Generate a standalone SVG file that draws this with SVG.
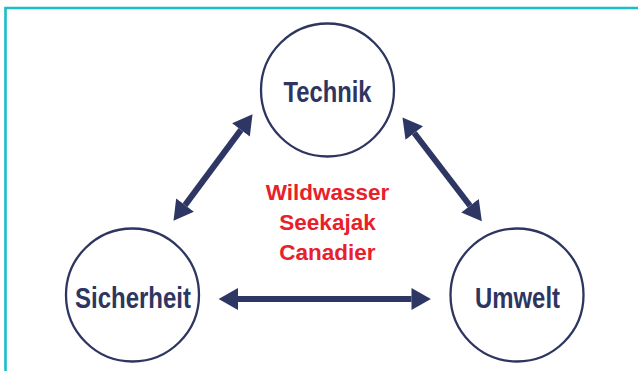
<svg xmlns="http://www.w3.org/2000/svg" width="638" height="371" viewBox="0 0 638 371">
<style>
.node{fill:#ffffff;stroke:#2e3560;stroke-width:2.3}
.lbl{font-family:"Liberation Sans",Arial,sans-serif;font-weight:bold;font-size:30px;fill:#2e3561;text-anchor:middle}
.red{font-family:"Liberation Sans",Arial,sans-serif;font-weight:bold;font-size:22.5px;fill:#e8202a;text-anchor:middle}
.arr{stroke:#2e3663;stroke-width:6;fill:none;marker-start:url(#head);marker-end:url(#head)}
</style>
<defs>
<marker id="head" markerUnits="userSpaceOnUse" markerWidth="20" markerHeight="22" viewBox="0 0 18.5 21" refX="0" refY="10.5" orient="auto-start-reverse">
<path d="M0,0 L18.5,10.5 L0,21 Z" fill="#2e3663"/>
</marker>
</defs>
<rect width="638" height="371" fill="#ffffff"/>
<path d="M5.5,371 V8 H638" fill="none" stroke="#17bec8" stroke-width="2.6"/>
<g id="connectors">
<line class="arr" x1="238" y1="299" x2="411.5" y2="299"/>
<line class="arr" x1="240.97" y1="129.85" x2="185.03" y2="205.15"/>
<line class="arr" x1="414.26" y1="133" x2="470.04" y2="205.8"/>
</g>
<g id="technik">
<circle class="node" cx="327.5" cy="90" r="66.5"/>
<text class="lbl" x="327.5" y="101.5" textLength="88" lengthAdjust="spacingAndGlyphs">Technik</text>
</g>
<g id="sicherheit">
<circle class="node" cx="132.5" cy="295" r="66.5"/>
<text class="lbl" x="133" y="308" textLength="116" lengthAdjust="spacingAndGlyphs">Sicherheit</text>
</g>
<g id="umwelt">
<circle class="node" cx="517" cy="295" r="66.5"/>
<text class="lbl" x="517.5" y="308" textLength="85" lengthAdjust="spacingAndGlyphs">Umwelt</text>
</g>
<g id="center-text">
<text class="red" x="327.5" y="200">Wildwasser</text>
<text class="red" x="327.5" y="230">Seekajak</text>
<text class="red" x="327.5" y="260">Canadier</text>
</g>
</svg>
